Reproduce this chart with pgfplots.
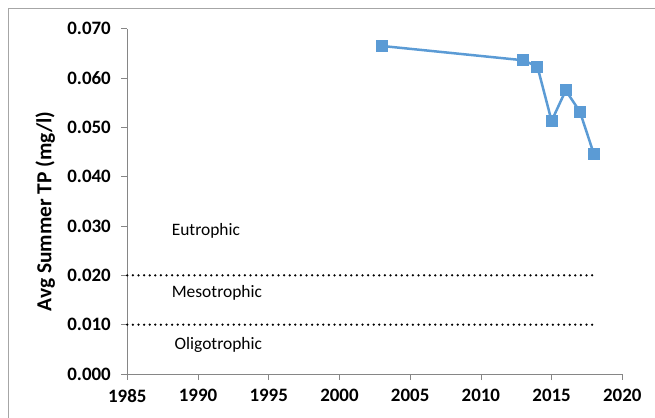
\documentclass[border=0pt]{standalone}
\usepackage{fontspec}
\setmainfont{Carlito}
\usepackage{pgfplots}
\pgfplotsset{compat=1.18}
\definecolor{tpblue}{HTML}{5B9BD5}
\definecolor{axgray}{HTML}{868686}
\definecolor{framegray}{HTML}{A6A6A6}
\newcommand{\tl}[1]{{\fontsize{19}{19}\selectfont\bfseries #1}}

\begin{document}
\begin{tikzpicture}
  \path[use as bounding box] (0bp,0bp) rectangle (655bp,418bp);
  % chart area border (partly cut off)
  \draw[framegray, line width=1bp] (8bp,-5bp) -- (8bp,409.7bp) -- (670bp,409.7bp);
  \begin{axis}[
    at={(127.3bp,44bp)}, anchor=south west,
    scale only axis, width=495bp, height=345.3bp,
    xmin=1985, xmax=2020, ymin=0, ymax=0.07,
    xtick={1985,1990,1995,2000,2005,2010,2015,2020},
    xticklabels={\tl{1985},\tl{1990},\tl{1995},\tl{2000},
      \tl{2005},\tl{2010},\tl{2015},\tl{2020}},
    ytick={0,0.01,0.02,0.03,0.04,0.05,0.06,0.07},
    scaled y ticks=false,
    axis lines*=left,
    axis line style={axgray, line width=0.75bp},
    tick style={axgray, line width=0.75bp},
    tick align=outside, major tick length=6bp,
    clip=false,
    /pgf/number format/assume math mode=true,
    x tick label style={yshift=-6bp},
    yticklabel style={font=\fontsize{19}{19}\selectfont\bfseries, xshift=-7bp,
      /pgf/number format/fixed, /pgf/number format/fixed zerofill,
      /pgf/number format/precision=3},
    ylabel={Avg Summer TP (mg/l)},
    ylabel style={font=\fontsize{21.5}{21.5}\selectfont\bfseries,
      at={(axis description cs:-0.166,0.471)}, anchor=center},
  ]
    % trophic state boundaries
    \addplot[black, line width=2.5bp, line cap=round, dash pattern=on 0bp off 5.6bp]
      coordinates {(1985,0.02) (2018,0.02)};
    \addplot[black, line width=2.5bp, line cap=round, dash pattern=on 0bp off 5.6bp]
      coordinates {(1985,0.01) (2018,0.01)};

    % average summer total phosphorus
    \addplot[tpblue, line width=2.5bp, mark=square*, mark size=5.5bp,
      mark options={solid, fill=tpblue, draw=tpblue, line width=0bp}]
      coordinates {
        (2003,0.0665) (2013,0.0636) (2014,0.0623) (2015,0.0513)
        (2016,0.0575) (2017,0.0532) (2018,0.0445)
      };

    \node[anchor=west, font=\fontsize{17.5}{17.5}\selectfont] at (axis cs:1987.9,0.0290) {Eutrophic};
    \node[anchor=west, font=\fontsize{17.5}{17.5}\selectfont] at (axis cs:1987.9,0.0164) {Mesotrophic};
    \node[anchor=west, font=\fontsize{17.5}{17.5}\selectfont] at (axis cs:1988.1,0.0059) {Oligotrophic};
  \end{axis}
\end{tikzpicture}
\end{document}
